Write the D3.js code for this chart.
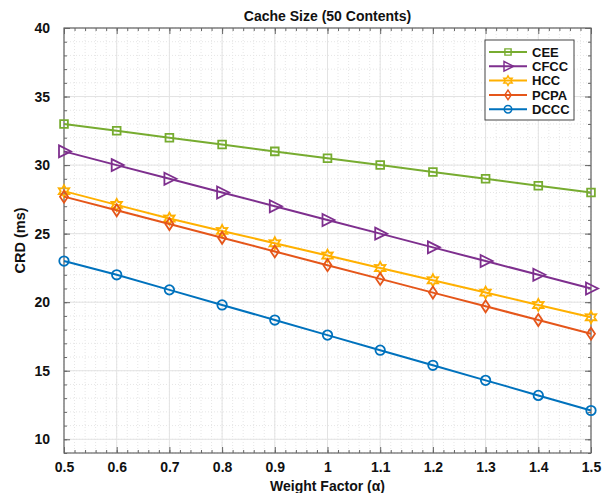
<!DOCTYPE html>
<html>
<head>
<meta charset="utf-8">
<script src="https://cdn.jsdelivr.net/npm/d3@7"></script>
<style>
  body { margin: 0; background: #fff; }
  text { font-family: "Liberation Sans", Arial, sans-serif; font-weight: bold; fill: #111; }
</style>
</head>
<body>
<div class="container"></div>
<script>
// data
const weights = [0.5, 0.6, 0.7, 0.8, 0.9, 1.0, 1.1, 1.2, 1.3, 1.4, 1.5];
const cee  = [33, 32.5, 32, 31.5, 31, 30.5, 30, 29.5, 29, 28.5, 28];
const cfcc = [31, 30, 29, 28, 27, 26, 25, 24, 23, 22, 21];
const hcc  = [28.1, 27.1, 26.1, 25.2, 24.3, 23.4, 22.5, 21.6, 20.7, 19.8, 18.9];
const pcpa = [27.7, 26.7, 25.7, 24.7, 23.7, 22.7, 21.7, 20.7, 19.7, 18.7, 17.7];
const dccc = [23, 22, 20.9, 19.8, 18.7, 17.6, 16.5, 15.4, 14.3, 13.2, 12.1];
const seriesNames = ["CEE", "CFCC", "HCC", "PCPA", "DCCC"];
const xTicks = [0.5, 0.6, 0.7, 0.8, 0.9, 1, 1.1, 1.2, 1.3, 1.4, 1.5];
const yTicks = [10, 15, 20, 25, 30, 35, 40];

const series = [
  { name: "CEE", values: cee, color: "#77ac30", marker: "square" },
  { name: "CFCC", values: cfcc, color: "#7e2f8e", marker: "triangle" },
  { name: "HCC", values: hcc, color: "#ffb000", marker: "star" },
  { name: "PCPA", values: pcpa, color: "#e5561a", marker: "diamond" },
  { name: "DCCC", values: dccc, color: "#0072bd", marker: "circle" },
];

const width = 608, height = 493;
const margin = { top: 28, right: 17, bottom: 40, left: 64 };
const innerW = width - margin.left - margin.right;
const innerH = height - margin.top - margin.bottom;

const svg = d3.select(".container").append("svg")
  .attr("width", width).attr("height", height);
const g = svg.append("g")
  .attr("transform", `translate(${margin.left},${margin.top})`);

const x = d3.scaleLinear().domain([0.5, 1.5]).range([0, innerW]);
const y = d3.scaleLinear().domain([9, 40]).range([innerH, 0]);

// grid - minor dotted, major solid
const minorX = d3.range(0.5, 1.5001, 0.02);
const minorY = d3.range(9, 40.001, 1);
g.append("g").selectAll("line").data(minorX).join("line")
  .attr("x1", d => x(d)).attr("x2", d => x(d)).attr("y1", 0).attr("y2", innerH)
  .attr("stroke", "#e6e6e6").attr("stroke-dasharray", "1,2");
g.append("g").selectAll("line").data(minorY).join("line")
  .attr("y1", d => y(d)).attr("y2", d => y(d)).attr("x1", 0).attr("x2", innerW)
  .attr("stroke", "#e6e6e6").attr("stroke-dasharray", "1,2");
g.append("g").selectAll("line").data(xTicks).join("line")
  .attr("x1", d => x(d)).attr("x2", d => x(d)).attr("y1", 0).attr("y2", innerH)
  .attr("stroke", "#e3e3e3");
g.append("g").selectAll("line").data(yTicks).join("line")
  .attr("y1", d => y(d)).attr("y2", d => y(d)).attr("x1", 0).attr("x2", innerW)
  .attr("stroke", "#e3e3e3");

// axes with inward ticks on all sides
const axisColor = "#666";
function styleAxis(sel) {
  sel.select(".domain").remove();
  sel.selectAll(".tick line").attr("stroke", axisColor);
  sel.selectAll("text").style("font-size", "14px").attr("fill", "#111");
}
g.append("g").attr("transform", `translate(0,${innerH})`)
  .call(d3.axisBottom(x).tickValues(xTicks).tickFormat(d3.format("~g")).tickSize(-6).tickPadding(9))
  .call(styleAxis);
g.append("g").attr("transform", `translate(0,${innerH})`)
  .call(d3.axisBottom(x).tickValues(minorX).tickFormat("").tickSize(-3))
  .call(styleAxis);
g.append("g")
  .call(d3.axisTop(x).tickValues(xTicks).tickFormat("").tickSize(-6))
  .call(styleAxis);
g.append("g")
  .call(d3.axisTop(x).tickValues(minorX).tickFormat("").tickSize(-3))
  .call(styleAxis);
g.append("g")
  .call(d3.axisLeft(y).tickValues(yTicks).tickSize(-6).tickPadding(14))
  .call(styleAxis);
g.append("g")
  .call(d3.axisLeft(y).tickValues(minorY).tickFormat("").tickSize(-3))
  .call(styleAxis);
g.append("g").attr("transform", `translate(${innerW},0)`)
  .call(d3.axisRight(y).tickValues(yTicks).tickFormat("").tickSize(-6))
  .call(styleAxis);
g.append("g").attr("transform", `translate(${innerW},0)`)
  .call(d3.axisRight(y).tickValues(minorY).tickFormat("").tickSize(-3))
  .call(styleAxis);
g.append("rect").attr("width", innerW).attr("height", innerH)
  .attr("fill", "none").attr("stroke", axisColor).attr("stroke-width", 1.2);

// markers (matlab-like shapes)
function hexagram(r) {
  const pts = [];
  for (let i = 0; i < 12; i++) {
    const a = -Math.PI / 2 + i * Math.PI / 6;
    const rr = i % 2 === 0 ? r : r * 0.55;
    pts.push([rr * Math.cos(a), rr * Math.sin(a)]);
  }
  return "M" + pts.join("L") + "Z";
}
function markerPath(m) {
  switch (m) {
    case "square": return d3.symbol(d3.symbolSquare, 60)();
    case "triangle": return "M-5,-6L7,0L-5,6Z";
    case "star": return hexagram(6);
    case "diamond": return "M0,-6L4,0L0,6L-4,0Z";
    default: return d3.symbol(d3.symbolCircle, 70)();
  }
}

const line = d3.line().x((d, i) => x(weights[i])).y(d => y(d));

const seriesG = g.selectAll(".series").data(series).join("g").attr("class", "series");
seriesG.append("path")
  .attr("d", d => line(d.values))
  .attr("fill", "none").attr("stroke", d => d.color).attr("stroke-width", 2);
seriesG.each(function (s) {
  d3.select(this).selectAll(".pt").data(s.values).join("path")
    .attr("class", "pt")
    .attr("d", markerPath(s.marker))
    .attr("transform", (d, i) => `translate(${x(weights[i])},${y(d)})`)
    .attr("fill", "none").attr("stroke", s.color).attr("stroke-width", 1.8);
});

// legend
const lg = svg.append("g").attr("transform", "translate(485,40)");
lg.append("rect").attr("width", 89).attr("height", 80)
  .attr("fill", "#fff").attr("stroke", "#444").attr("stroke-width", 1);
const item = lg.selectAll(".item").data(series).join("g")
  .attr("transform", (d, i) => `translate(0,${12 + i * 14.3})`);
item.append("line").attr("x1", 4).attr("x2", 42)
  .attr("stroke", d => d.color).attr("stroke-width", 2);
item.append("path")
  .attr("d", d => markerPath(d.marker))
  .attr("transform", "translate(23,0) scale(0.8)")
  .attr("fill", "none").attr("stroke", d => d.color).attr("stroke-width", 1.8);
item.append("text").attr("x", 47).attr("dy", "0.36em")
  .style("font-size", "13px").text(d => d.name);

// titles
svg.append("text").attr("x", margin.left + innerW / 2).attr("y", 21)
  .attr("text-anchor", "middle").style("font-size", "14px")
  .text("Cache Size (50 Contents)");
svg.append("text").attr("x", margin.left + innerW / 2).attr("y", 491)
  .attr("text-anchor", "middle").style("font-size", "14px")
  .text("Weight Factor (α)");
svg.append("text")
  .attr("transform", `translate(25,${margin.top + innerH / 2}) rotate(-90)`)
  .attr("text-anchor", "middle").style("font-size", "14.5px")
  .text("CRD (ms)");
</script>
</body>
</html>
